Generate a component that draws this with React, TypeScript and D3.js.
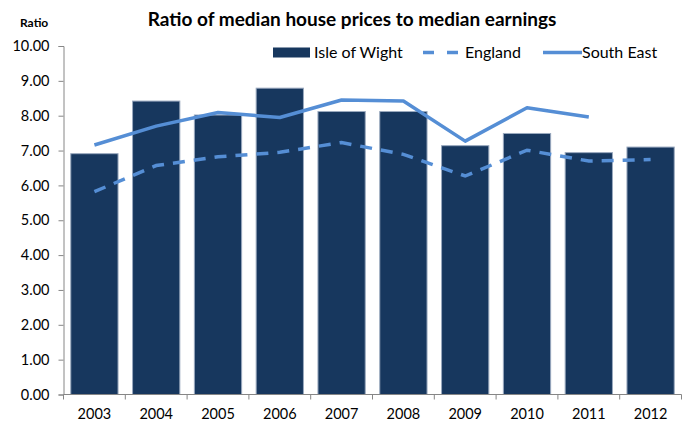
import React, { useEffect, useRef } from 'react';
import * as d3 from 'd3';

const years = ['2003', '2004', '2005', '2006', '2007', '2008', '2009', '2010', '2011', '2012'];
const isleOfWight = [6.91, 8.42, 8.02, 8.79, 8.12, 8.12, 7.14, 7.49, 6.94, 7.1];
const england = [5.82, 6.57, 6.82, 6.95, 7.23, 6.89, 6.27, 7.01, 6.7, 6.74];
const southEast: (number | null)[] = [7.16, 7.7, 8.09, 7.95, 8.45, 8.42, 7.27, 8.23, 7.96, null];
const yTicks = [0, 1, 2, 3, 4, 5, 6, 7, 8, 9, 10];

const BAR = '#17375e';
const LINE = '#558ed5';
const FONT = 'Lato, "Open Sans", sans-serif';

export default function App() {
  const svgRef = useRef<SVGSVGElement | null>(null);

  useEffect(() => {
    if (!svgRef.current) return;
    const svg = d3.select(svgRef.current);
    svg.selectAll('*').remove();

    const left = 63.5;
    const right = 681.5;
    const top = 46;
    const bottom = 394.5;

    const x = d3.scaleBand<string>().domain(years).range([left, right]).paddingInner(0.235).paddingOuter(0.1175);
    const xc = (i: number) => (x(years[i]) as number) + x.bandwidth() / 2;
    const y = d3.scaleLinear().domain([0, 10]).range([bottom, top]);

    // title
    svg.append('text')
      .attr('x', 352).attr('y', 26)
      .attr('text-anchor', 'middle')
      .attr('font-family', FONT).attr('font-weight', 'bold').attr('font-size', 19)
      .attr('fill', '#000')
      .text('Ratio of median house prices to median earnings');

    svg.append('text')
      .attr('x', 20).attr('y', 27)
      .attr('font-family', FONT).attr('font-weight', 'bold').attr('font-size', 12)
      .attr('fill', '#000')
      .text('Ratio');

    // bars
    svg.append('g')
      .selectAll('rect')
      .data(isleOfWight)
      .join('rect')
      .attr('x', (_, i) => x(years[i]) as number)
      .attr('y', d => y(d))
      .attr('width', x.bandwidth())
      .attr('height', d => y(0) - y(d))
      .attr('fill', BAR)
      .attr('stroke', '#9aa9bf')
      .attr('stroke-width', 1);

    // y axis
    const yAxis = svg.append('g')
      .attr('transform', `translate(${left},0)`)
      .call(d3.axisLeft(y).tickValues(yTicks).tickSize(5).tickPadding(9).tickFormat(d => d3.format('.2f')(d as number)));
    yAxis.select('.domain').attr('stroke', '#868686');
    yAxis.selectAll('.tick line').attr('stroke', '#868686');
    yAxis.selectAll('.tick text')
      .attr('font-family', FONT).attr('font-size', 14.5).attr('fill', '#000');

    // x axis
    const xAxis = svg.append('g')
      .attr('transform', `translate(0,${bottom})`);
    xAxis.append('line')
      .attr('x1', left).attr('x2', right)
      .attr('stroke', '#868686');
    const edges = d3.range(years.length + 1).map(i => left + (i * (right - left)) / years.length);
    xAxis.selectAll('line.tk')
      .data(edges)
      .join('line')
      .attr('class', 'tk')
      .attr('x1', d => d).attr('x2', d => d)
      .attr('y1', 0).attr('y2', 5)
      .attr('stroke', '#868686');
    xAxis.selectAll('text')
      .data(years)
      .join('text')
      .attr('x', (_, i) => xc(i))
      .attr('y', 24)
      .attr('text-anchor', 'middle')
      .attr('font-family', FONT).attr('font-size', 14.5).attr('fill', '#000')
      .text(d => d);

    // lines
    const line = d3.line<number | null>()
      .defined(d => d !== null)
      .x((_, i) => xc(i))
      .y(d => y(d as number));

    svg.append('path')
      .datum(england as (number | null)[])
      .attr('fill', 'none')
      .attr('stroke', LINE)
      .attr('stroke-width', 3.5)
      .attr('stroke-dasharray', '12 9')
      .attr('d', line);

    svg.append('path')
      .datum(southEast)
      .attr('fill', 'none')
      .attr('stroke', LINE)
      .attr('stroke-width', 3.5)
      .attr('stroke-linejoin', 'round')
      .attr('d', line);

    // legend
    const lg = svg.append('g').attr('font-family', FONT).attr('font-size', 16).attr('fill', '#000');
    lg.append('rect').attr('x', 273).attr('y', 47.5).attr('width', 37).attr('height', 10).attr('fill', BAR);
    lg.append('text').attr('x', 314).attr('y', 58).text('Isle of Wight');
    lg.append('line').attr('x1', 423).attr('x2', 458).attr('y1', 52.5).attr('y2', 52.5)
      .attr('stroke', LINE).attr('stroke-width', 3.5).attr('stroke-dasharray', '11 13');
    lg.append('text').attr('x', 465).attr('y', 58).text('England');
    lg.append('line').attr('x1', 543).attr('x2', 582).attr('y1', 52.5).attr('y2', 52.5)
      .attr('stroke', LINE).attr('stroke-width', 3.5);
    lg.append('text').attr('x', 582).attr('y', 58).text('South East');
  }, []);

  return (
    <svg
      ref={svgRef}
      width={685}
      height={421}
      style={{ position: 'absolute', left: 0, top: 0, background: '#fff' }}
    />
  );
}
